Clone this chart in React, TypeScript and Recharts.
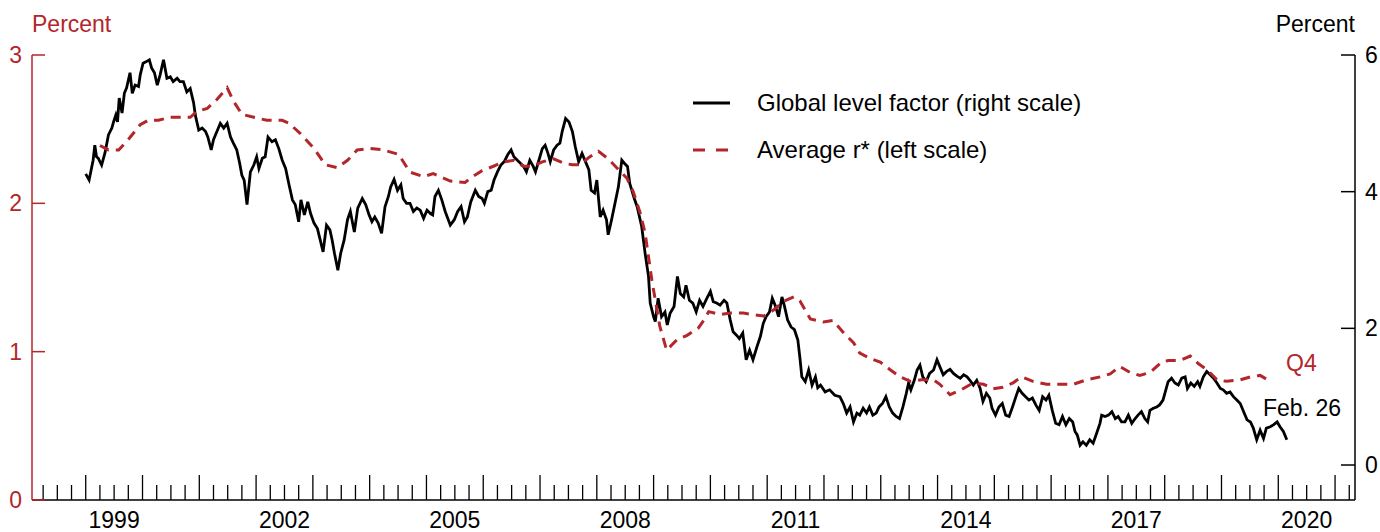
import React from 'react';
import { ComposedChart, Line, XAxis, YAxis, Customized } from 'recharts';

const RED = '#b3262b';
const FONT = '"Liberation Sans", Arial, Helvetica, sans-serif';
const FS = 23;
const LEGEND_FS = 24;

// Year labels shown on the horizontal axis (centred on each year)
const yearLabels = ['1999', '2002', '2005', '2008', '2011', '2014', '2017', '2020'];
const leftTicks = [0, 1, 2, 3];
const rightTicks = [0, 2, 4, 6];
const xDomain: [number, number] = [1998.054, 2021.351];
const leftDomain: [number, number] = [0, 3];
const rightDomain: [number, number] = [-0.512, 6];

// quarter boundaries for the tick marks
const quarterTicks: number[] = [];
for (let y = 1998; y <= 2021; y++) {
  for (const q of [0, 0.25, 0.5, 0.75]) {
    const v = y + q;
    if (v > xDomain[0] && v < xDomain[1]) quarterTicks.push(v);
  }
}

// Global level factor (right scale), percent — [decimal year, value]
const globalLevel: [number, number][] = [
  [1999.00, 4.26], [1999.06, 4.17], [1999.13, 4.46], [1999.16, 4.68], [1999.19, 4.51], [1999.22, 4.49],
  [1999.28, 4.39], [1999.34, 4.57], [1999.40, 4.83], [1999.46, 4.93], [1999.49, 5.02], [1999.53, 5.12],
  [1999.56, 5.02], [1999.59, 5.37], [1999.64, 5.15], [1999.68, 5.44], [1999.72, 5.52], [1999.78, 5.74],
  [1999.82, 5.44], [1999.87, 5.56], [1999.93, 5.54], [1999.96, 5.71], [2000.01, 5.88], [2000.06, 5.90],
  [2000.12, 5.93], [2000.16, 5.81], [2000.21, 5.74], [2000.26, 5.56], [2000.31, 5.71], [2000.37, 5.93],
  [2000.43, 5.66], [2000.49, 5.68], [2000.54, 5.61], [2000.61, 5.66], [2000.66, 5.61], [2000.72, 5.61],
  [2000.78, 5.46], [2000.84, 5.51], [2000.90, 5.30], [2000.93, 5.12], [2000.99, 4.90], [2001.05, 4.93],
  [2001.11, 4.88], [2001.15, 4.80], [2001.21, 4.61], [2001.25, 4.76], [2001.31, 4.88], [2001.37, 5.00],
  [2001.43, 4.93], [2001.49, 5.00], [2001.55, 4.80], [2001.60, 4.71], [2001.66, 4.61], [2001.71, 4.42],
  [2001.75, 4.24], [2001.79, 4.17], [2001.84, 3.81], [2001.90, 4.29], [2001.96, 4.39], [2002.01, 4.51],
  [2002.05, 4.34], [2002.11, 4.49], [2002.16, 4.51], [2002.21, 4.80], [2002.28, 4.73], [2002.34, 4.76],
  [2002.40, 4.63], [2002.46, 4.46], [2002.52, 4.34], [2002.58, 4.10], [2002.64, 3.88], [2002.69, 3.81],
  [2002.75, 3.56], [2002.79, 3.88], [2002.85, 3.66], [2002.91, 3.85], [2002.96, 3.68], [2003.02, 3.54],
  [2003.08, 3.46], [2003.13, 3.29], [2003.18, 3.12], [2003.24, 3.51], [2003.30, 3.44], [2003.34, 3.29],
  [2003.38, 3.10], [2003.44, 2.85], [2003.49, 3.10], [2003.55, 3.29], [2003.61, 3.59], [2003.66, 3.71],
  [2003.73, 3.41], [2003.79, 3.76], [2003.87, 3.90], [2003.93, 3.81], [2003.99, 3.66],
  [2004.04, 3.56], [2004.09, 3.63], [2004.15, 3.54], [2004.21, 3.39], [2004.27, 3.78], [2004.33, 3.93],
  [2004.37, 4.07], [2004.43, 4.18], [2004.49, 4.02], [2004.55, 4.10], [2004.59, 3.90], [2004.65, 3.83],
  [2004.71, 3.83], [2004.77, 3.71], [2004.83, 3.76], [2004.89, 3.73], [2004.95, 3.61], [2005.01, 3.73],
  [2005.07, 3.68], [2005.11, 3.66], [2005.15, 3.93], [2005.21, 4.02], [2005.27, 3.88], [2005.33, 3.71],
  [2005.42, 3.51], [2005.49, 3.59], [2005.55, 3.71], [2005.61, 3.78], [2005.67, 3.56], [2005.72, 3.63],
  [2005.78, 3.85], [2005.86, 4.02], [2005.92, 3.93], [2005.98, 3.90], [2006.02, 3.83], [2006.08, 4.00],
  [2006.14, 4.02], [2006.19, 4.17], [2006.25, 4.29], [2006.31, 4.39], [2006.37, 4.44], [2006.43, 4.54],
  [2006.49, 4.61], [2006.54, 4.51], [2006.60, 4.46], [2006.65, 4.42], [2006.71, 4.37], [2006.76, 4.29],
  [2006.82, 4.46], [2006.88, 4.37], [2006.92, 4.29], [2006.98, 4.46], [2007.04, 4.63], [2007.09, 4.68],
  [2007.14, 4.56], [2007.18, 4.44], [2007.24, 4.61], [2007.30, 4.68], [2007.35, 4.71], [2007.39, 4.88],
  [2007.45, 5.07], [2007.51, 5.02], [2007.57, 4.88], [2007.62, 4.66], [2007.68, 4.44], [2007.74, 4.56],
  [2007.80, 4.44], [2007.86, 4.32], [2007.90, 4.02], [2007.96, 3.98],
  [2008.00, 4.17], [2008.06, 3.63], [2008.11, 3.73], [2008.17, 3.59], [2008.20, 3.37], [2008.26, 3.59],
  [2008.32, 3.83], [2008.38, 4.07], [2008.44, 4.46], [2008.48, 4.42], [2008.54, 4.37], [2008.58, 4.12],
  [2008.66, 3.90], [2008.71, 3.78], [2008.79, 3.49], [2008.85, 3.10], [2008.91, 2.76], [2008.94, 2.37],
  [2009.00, 2.17], [2009.03, 2.10], [2009.08, 2.44], [2009.14, 2.17], [2009.20, 2.24], [2009.24, 2.05],
  [2009.29, 2.22], [2009.36, 2.32], [2009.42, 2.76], [2009.47, 2.51], [2009.53, 2.46], [2009.57, 2.63],
  [2009.63, 2.41], [2009.69, 2.37], [2009.75, 2.24], [2009.81, 2.41], [2009.87, 2.32], [2009.92, 2.41],
  [2010.00, 2.54], [2010.05, 2.39], [2010.11, 2.37], [2010.17, 2.34], [2010.24, 2.41], [2010.29, 2.37],
  [2010.35, 2.12], [2010.40, 1.95], [2010.46, 1.90], [2010.51, 1.85], [2010.57, 1.93], [2010.63, 1.54],
  [2010.69, 1.68], [2010.75, 1.54], [2010.82, 1.73], [2010.88, 1.88], [2010.93, 2.07], [2010.98, 2.17],
  [2011.04, 2.24], [2011.09, 2.44], [2011.14, 2.34], [2011.20, 2.17], [2011.26, 2.46], [2011.30, 2.34],
  [2011.36, 2.12], [2011.42, 2.02], [2011.48, 1.98], [2011.54, 1.83], [2011.58, 1.54], [2011.61, 1.29],
  [2011.67, 1.22], [2011.73, 1.39], [2011.79, 1.17], [2011.85, 1.29], [2011.89, 1.13], [2011.94, 1.17],
  [2012.02, 1.07], [2012.10, 1.10], [2012.19, 1.02], [2012.28, 1.00], [2012.34, 0.90], [2012.40, 0.76],
  [2012.46, 0.85], [2012.52, 0.63], [2012.58, 0.76], [2012.63, 0.73], [2012.69, 0.83], [2012.75, 0.76],
  [2012.80, 0.85], [2012.86, 0.73], [2012.92, 0.76], [2012.97, 0.85], [2013.03, 0.90], [2013.09, 1.00],
  [2013.15, 0.85], [2013.21, 0.76], [2013.27, 0.71], [2013.33, 0.68], [2013.39, 0.85], [2013.45, 1.05],
  [2013.49, 1.20], [2013.53, 1.10], [2013.59, 1.24], [2013.64, 1.39], [2013.69, 1.46], [2013.74, 1.29],
  [2013.80, 1.22], [2013.86, 1.34], [2013.93, 1.39], [2013.99, 1.54], [2014.04, 1.44], [2014.10, 1.32],
  [2014.16, 1.37], [2014.22, 1.40], [2014.28, 1.34], [2014.34, 1.30], [2014.40, 1.27], [2014.46, 1.32],
  [2014.52, 1.29], [2014.57, 1.24], [2014.63, 1.17], [2014.69, 1.24], [2014.75, 1.12], [2014.80, 0.93],
  [2014.86, 1.05], [2014.92, 0.98], [2014.96, 0.83], [2015.02, 0.73], [2015.08, 0.85], [2015.14, 0.90],
  [2015.20, 0.73], [2015.26, 0.71], [2015.32, 0.85], [2015.38, 1.00], [2015.43, 1.12], [2015.49, 1.05],
  [2015.55, 1.00], [2015.61, 0.95], [2015.67, 0.98], [2015.73, 0.88], [2015.79, 0.80], [2015.85, 1.00],
  [2015.91, 0.95], [2015.96, 1.02], [2016.02, 0.80], [2016.08, 0.61], [2016.14, 0.59], [2016.20, 0.71],
  [2016.26, 0.59], [2016.32, 0.68], [2016.38, 0.63], [2016.42, 0.49], [2016.46, 0.44], [2016.51, 0.29],
  [2016.56, 0.34], [2016.62, 0.29], [2016.68, 0.37], [2016.74, 0.32], [2016.80, 0.46], [2016.86, 0.61],
  [2016.89, 0.73], [2016.95, 0.71], [2017.01, 0.73], [2017.07, 0.78], [2017.13, 0.68], [2017.18, 0.71],
  [2017.24, 0.63], [2017.30, 0.63], [2017.36, 0.73], [2017.42, 0.61], [2017.48, 0.68], [2017.53, 0.73],
  [2017.59, 0.78], [2017.65, 0.68], [2017.70, 0.63], [2017.74, 0.80], [2017.80, 0.83], [2017.86, 0.85],
  [2017.91, 0.88], [2017.97, 0.95], [2018.02, 1.10], [2018.06, 1.22], [2018.12, 1.27], [2018.18, 1.20],
  [2018.24, 1.17], [2018.30, 1.27], [2018.36, 1.29], [2018.40, 1.12], [2018.46, 1.20], [2018.52, 1.15],
  [2018.58, 1.22], [2018.62, 1.15], [2018.68, 1.29], [2018.74, 1.37], [2018.80, 1.32], [2018.86, 1.27],
  [2018.92, 1.20], [2018.98, 1.12], [2019.03, 1.10], [2019.09, 1.05], [2019.15, 1.07], [2019.21, 1.00],
  [2019.27, 0.95], [2019.33, 0.90], [2019.39, 0.78], [2019.45, 0.66], [2019.51, 0.63], [2019.56, 0.54],
  [2019.62, 0.37], [2019.68, 0.51], [2019.74, 0.39], [2019.79, 0.54], [2019.86, 0.56], [2019.92, 0.59],
  [2019.98, 0.63], [2020.03, 0.56], [2020.09, 0.49], [2020.15, 0.37],
];

// Average r* (left scale), percent — [decimal year, value]
const averageRStar: [number, number][] = [
  [1999.25, 2.39], [1999.40, 2.36], [1999.58, 2.36], [1999.75, 2.43], [1999.96, 2.53], [2000.10, 2.56],
  [2000.28, 2.56], [2000.49, 2.58], [2000.84, 2.58], [2000.96, 2.62], [2001.14, 2.64], [2001.31, 2.70],
  [2001.49, 2.78], [2001.60, 2.69], [2001.75, 2.60], [2001.96, 2.58], [2002.19, 2.56], [2002.46, 2.56],
  [2002.58, 2.54], [2002.78, 2.47], [2003.02, 2.37], [2003.22, 2.26], [2003.43, 2.24], [2003.61, 2.29],
  [2003.78, 2.36], [2004.01, 2.37], [2004.24, 2.36], [2004.51, 2.33], [2004.71, 2.21], [2004.95, 2.18],
  [2005.12, 2.20], [2005.30, 2.17], [2005.42, 2.15], [2005.68, 2.14], [2005.77, 2.17], [2005.98, 2.22],
  [2006.18, 2.25], [2006.36, 2.28], [2006.54, 2.29], [2006.71, 2.25], [2006.86, 2.25], [2007.04, 2.28],
  [2007.24, 2.30], [2007.42, 2.27], [2007.57, 2.26], [2007.71, 2.26], [2007.86, 2.31], [2008.03, 2.35],
  [2008.20, 2.30], [2008.35, 2.24], [2008.53, 2.17], [2008.64, 2.08], [2008.76, 1.94], [2008.85, 1.80],
  [2008.97, 1.48], [2009.11, 1.17], [2009.23, 1.01], [2009.41, 1.08], [2009.59, 1.11], [2009.79, 1.16],
  [2009.88, 1.21], [2009.97, 1.27], [2010.17, 1.25], [2010.35, 1.26], [2010.58, 1.26], [2010.76, 1.25],
  [2010.94, 1.24], [2011.11, 1.28], [2011.29, 1.34], [2011.47, 1.37], [2011.58, 1.34], [2011.76, 1.22],
  [2011.99, 1.20], [2012.16, 1.21], [2012.34, 1.13], [2012.52, 1.06], [2012.63, 0.99], [2012.84, 0.95],
  [2012.99, 0.93], [2013.16, 0.88], [2013.34, 0.83], [2013.52, 0.80], [2013.72, 0.81], [2013.93, 0.81],
  [2014.04, 0.78], [2014.22, 0.71], [2014.40, 0.74], [2014.63, 0.79], [2014.81, 0.78], [2014.98, 0.75],
  [2015.15, 0.76], [2015.33, 0.79], [2015.48, 0.83], [2015.68, 0.80], [2015.92, 0.78], [2016.15, 0.78],
  [2016.39, 0.78], [2016.62, 0.81], [2016.86, 0.83], [2017.04, 0.85], [2017.21, 0.90], [2017.39, 0.86],
  [2017.56, 0.84], [2017.74, 0.86], [2017.95, 0.93], [2018.06, 0.94], [2018.27, 0.94], [2018.45, 0.97],
  [2018.59, 0.92], [2018.74, 0.88], [2018.92, 0.81], [2019.09, 0.80], [2019.33, 0.81], [2019.51, 0.83],
  [2019.68, 0.84], [2019.86, 0.80],
];

const levelData = globalLevel.map(([t, v]) => ({ t, level: v }));
const rstarData = averageRStar.map(([t, v]) => ({ t, rstar: v }));

const isNear = (a: number, b: number) => Math.abs(a - b) < 1e-6;

const XTick = (props: any) => {
  const { x, y, payload } = props;
  const v = payload.value as number;
  const isYear = isNear(v, Math.round(v));
  const isMid = isNear(v - Math.floor(v), 0.5);
  const label = String(Math.floor(v));
  return (
    <g>
      <line x1={x} x2={x} y1={y} y2={y - (isYear ? 25 : 15)} stroke="#000" strokeWidth={1.3} />
      {isMid && yearLabels.includes(label) && (
        <text x={x} y={y + 28} textAnchor="middle" fontSize={FS} fontFamily={FONT} fill="#000">
          {label}
        </text>
      )}
    </g>
  );
};

const LeftTick = (props: any) => {
  const { x, y, payload } = props;
  return (
    <g>
      <line x1={x} x2={x + 13} y1={y} y2={y} stroke={RED} strokeWidth={1.5} />
      <text x={x - 10} y={y + 8} textAnchor="end" fontSize={FS} fontFamily={FONT} fill={RED}>
        {payload.value}
      </text>
    </g>
  );
};

const RightTick = (props: any) => {
  const { x, y, payload } = props;
  return (
    <g>
      <line x1={x} x2={x - 14} y1={y} y2={y} stroke="#000" strokeWidth={1.5} />
      <text x={x + 10} y={y + 8} textAnchor="start" fontSize={FS} fontFamily={FONT} fill="#000">
        {payload.value}
      </text>
    </g>
  );
};

const Overlay = () => (
  <g fontFamily={FONT} fontSize={FS}>
    <text x={32} y={32} fill={RED}>Percent</text>
    <text x={1355} y={32} fill="#000" textAnchor="end">Percent</text>
    <line x1={693} x2={730} y1={103} y2={103} stroke="#000" strokeWidth={3} />
    <text x={757} y={111} fill="#000" fontSize={LEGEND_FS}>Global level factor (right scale)</text>
    <line x1={693} x2={730} y1={150} y2={150} stroke={RED} strokeWidth={3} strokeDasharray="12 11" />
    <text x={757} y={158} fill="#000" fontSize={LEGEND_FS}>Average r* (left scale)</text>
    <text x={1286} y={371} fill={RED}>Q4</text>
    <text x={1263} y={416} fill="#000">Feb. 26</text>
  </g>
);

export default function App() {
  return (
    <div style={{ position: 'absolute', left: 0, top: 0, width: 1380, height: 532, background: '#fff' }}>
      <ComposedChart
        width={1380}
        height={532}
        margin={{ top: 55, right: 24, bottom: 31, left: 31 }}
        style={{ fontFamily: FONT }}
      >
        <XAxis
          dataKey="t"
          type="number"
          domain={xDomain}
          allowDataOverflow
          ticks={quarterTicks}
          interval={0}
          height={1}
          tickSize={0}
          tickMargin={0}
          tickLine={false}
          tick={<XTick />}
          axisLine={{ stroke: '#000', strokeWidth: 1.5 }}
        />
        <YAxis
          yAxisId="left"
          orientation="left"
          type="number"
          domain={leftDomain}
          allowDataOverflow
          ticks={leftTicks}
          interval={0}
          width={1}
          tickSize={0}
          tickMargin={0}
          tickLine={false}
          tick={<LeftTick />}
          axisLine={{ stroke: RED, strokeWidth: 1.5 }}
        />
        <YAxis
          yAxisId="right"
          orientation="right"
          type="number"
          domain={rightDomain}
          allowDataOverflow
          ticks={rightTicks}
          interval={0}
          width={1}
          tickSize={0}
          tickMargin={0}
          tickLine={false}
          tick={<RightTick />}
          axisLine={{ stroke: '#000', strokeWidth: 1.5 }}
        />
        <Line
          yAxisId="right"
          data={levelData}
          dataKey="level"
          type="linear"
          stroke="#000"
          strokeWidth={2.8}
          dot={false}
          activeDot={false}
          isAnimationActive={false}
        />
        <Line
          yAxisId="left"
          data={rstarData}
          dataKey="rstar"
          type="linear"
          stroke={RED}
          strokeWidth={3}
          strokeDasharray="10 7"
          dot={false}
          activeDot={false}
          isAnimationActive={false}
        />
        <Customized component={Overlay} />
      </ComposedChart>
    </div>
  );
}
